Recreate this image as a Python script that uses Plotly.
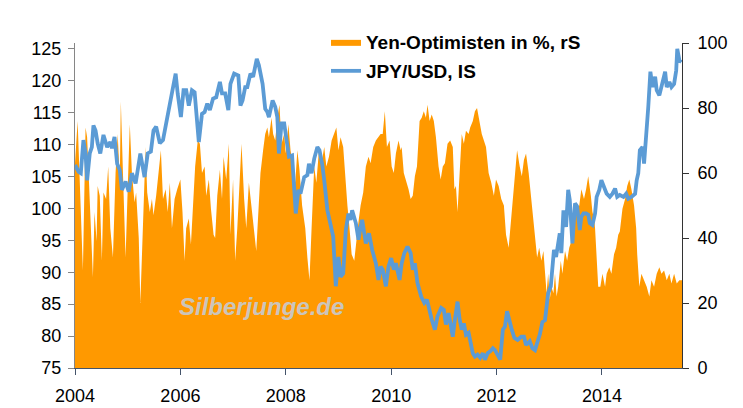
import plotly.graph_objects as go

# JPY/USD (left axis)
jpy_year = [2004.00, 2004.07, 2004.11, 2004.16, 2004.20, 2004.23, 2004.28, 2004.32, 2004.35, 2004.39,
            2004.43, 2004.48, 2004.54, 2004.61, 2004.67, 2004.70, 2004.75, 2004.80, 2004.85, 2004.89,
            2004.96, 2005.02, 2005.08, 2005.15, 2005.24, 2005.32, 2005.38, 2005.44, 2005.49, 2005.54,
            2005.61, 2005.67, 2005.73, 2005.81, 2005.86, 2005.91, 2005.95, 2006.01, 2006.06, 2006.11,
            2006.16, 2006.22, 2006.27, 2006.32, 2006.35, 2006.41, 2006.46, 2006.51, 2006.56, 2006.62,
            2006.68, 2006.75, 2006.79, 2006.85, 2006.91, 2006.95, 2007.02, 2007.10, 2007.14, 2007.18,
            2007.23, 2007.27, 2007.33, 2007.38, 2007.42, 2007.45, 2007.49, 2007.56, 2007.61, 2007.65,
            2007.68, 2007.75, 2007.80, 2007.84, 2007.87, 2007.92, 2007.97, 2008.01, 2008.06, 2008.12,
            2008.19, 2008.24, 2008.28, 2008.35, 2008.41, 2008.44, 2008.49, 2008.54, 2008.60, 2008.64,
            2008.69, 2008.73, 2008.79, 2008.83, 2008.90, 2008.95, 2009.00, 2009.04, 2009.09, 2009.14,
            2009.19, 2009.23, 2009.26, 2009.33, 2009.38, 2009.42, 2009.45, 2009.52, 2009.58, 2009.64,
            2009.71, 2009.76, 2009.80, 2009.84, 2009.90, 2009.95, 2010.00, 2010.05, 2010.09, 2010.16,
            2010.20, 2010.25, 2010.31, 2010.37, 2010.41, 2010.45, 2010.50, 2010.57, 2010.63, 2010.68,
            2010.73, 2010.77, 2010.83, 2010.88, 2010.95, 2011.00, 2011.04, 2011.09, 2011.13, 2011.17,
            2011.21, 2011.26, 2011.30, 2011.34, 2011.38, 2011.42, 2011.47, 2011.50, 2011.55, 2011.59,
            2011.64, 2011.69, 2011.74, 2011.78, 2011.83, 2011.88, 2011.93, 2011.97, 2012.02, 2012.07,
            2012.12, 2012.16, 2012.20, 2012.25, 2012.29, 2012.34, 2012.40, 2012.47, 2012.52, 2012.56,
            2012.63, 2012.68, 2012.73, 2012.77, 2012.82, 2012.87, 2012.92, 2012.95, 2012.98, 2013.03,
            2013.06, 2013.09, 2013.13, 2013.17, 2013.20, 2013.23, 2013.27, 2013.32, 2013.36, 2013.39,
            2013.44, 2013.49, 2013.53, 2013.58, 2013.61, 2013.65, 2013.70, 2013.74, 2013.77, 2013.82,
            2013.87, 2013.90, 2013.95, 2013.99, 2014.04, 2014.09, 2014.15, 2014.20, 2014.25, 2014.29,
            2014.34, 2014.41, 2014.46, 2014.50, 2014.56, 2014.63, 2014.66, 2014.69, 2014.72, 2014.77,
            2014.80, 2014.84, 2014.88, 2014.92, 2014.96, 2015.01, 2015.04, 2015.09, 2015.13, 2015.20,
            2015.23, 2015.28, 2015.32, 2015.37, 2015.41, 2015.43, 2015.47, 2015.51]
jpy_value = [106.8, 105.7, 105.5, 110.7, 108.6, 104.4, 108.6, 109.6, 113.0, 112.2,
             110.2, 108.6, 111.5, 109.6, 110.4, 109.4, 111.2, 107.0, 106.0, 102.9,
             104.2, 102.6, 105.5, 103.9, 108.6, 104.9, 108.6, 108.9, 112.2, 112.8,
             110.2, 110.7, 113.3, 116.9, 119.5, 121.1, 117.9, 114.3, 118.5, 118.5,
             116.1, 118.5, 118.2, 113.3, 110.4, 114.8, 115.1, 116.4, 115.4, 117.2,
             117.4, 119.8, 118.0, 118.0, 115.4, 119.5, 121.1, 120.8, 116.1, 116.9,
             119.0, 119.0, 121.1, 120.6, 122.1, 123.4, 122.4, 119.5, 115.6, 115.1,
             114.3, 116.9, 115.9, 114.3, 108.6, 113.3, 113.3, 110.7, 108.1, 108.3,
             99.2, 102.9, 102.3, 104.9, 105.2, 107.0, 105.5, 107.8, 109.6, 109.1,
             107.0, 104.4, 99.7, 98.2, 95.6, 87.8, 92.4, 89.3, 89.8, 96.6,
             99.2, 98.2, 99.7, 97.7, 95.1, 97.1, 98.2, 94.5, 96.1, 93.5,
             91.4, 88.8, 90.9, 90.4, 87.8, 90.9, 92.2, 90.4, 91.4, 88.8,
             91.4, 93.0, 94.0, 93.0, 90.4, 91.4, 88.3, 86.2, 85.2, 85.7,
             83.6, 82.6, 81.0, 83.1, 84.4, 84.1, 81.8, 83.6, 81.8, 79.9,
             82.6, 85.4, 82.6, 81.0, 82.0, 80.2, 80.5, 79.2, 77.3, 76.8,
             77.1, 76.6, 77.3, 76.3, 77.3, 77.6, 78.1, 77.8, 77.1, 76.3,
             81.0, 81.5, 83.9, 82.0, 81.0, 79.7, 79.4, 79.9, 79.9, 78.6,
             79.2, 78.1, 77.8, 78.9, 80.2, 82.2, 82.5, 84.6, 86.7, 87.8,
             90.9, 93.5, 92.4, 94.5, 96.1, 93.0, 99.7, 97.1, 102.9, 101.3,
             94.5, 100.8, 100.3, 96.6, 98.7, 99.2, 99.2, 99.0, 97.7, 97.4,
             99.2, 101.8, 102.9, 104.4, 103.4, 102.3, 101.8, 102.3, 103.1, 101.8,
             102.1, 101.8, 102.3, 101.5, 101.8, 102.3, 104.4, 105.5, 109.1, 109.6,
             107.0, 110.7, 115.9, 121.4, 119.0, 120.6, 118.5, 117.7, 119.3, 121.4,
             119.0, 119.8, 119.0, 119.5, 121.6, 125.0, 123.2, 122.9]

# Yen-Optimisten in % (right axis)
opt_year = [2004.00, 2004.05, 2004.15, 2004.20, 2004.23, 2004.29, 2004.34, 2004.37, 2004.41, 2004.43,
            2004.47, 2004.51, 2004.54, 2004.59, 2004.63, 2004.67, 2004.72, 2004.77, 2004.81, 2004.85,
            2004.87, 2004.91, 2004.96, 2005.00, 2005.04, 2005.08, 2005.13, 2005.16, 2005.21, 2005.24,
            2005.27, 2005.30, 2005.34, 2005.37, 2005.42, 2005.46, 2005.49, 2005.54, 2005.59, 2005.63,
            2005.67, 2005.72, 2005.76, 2005.80, 2005.84, 2005.89, 2005.94, 2006.00, 2006.04, 2006.08,
            2006.11, 2006.16, 2006.20, 2006.24, 2006.28, 2006.33, 2006.37, 2006.41, 2006.46, 2006.49,
            2006.54, 2006.58, 2006.63, 2006.66, 2006.70, 2006.75, 2006.79, 2006.82, 2006.87, 2006.92,
            2006.95, 2007.00, 2007.04, 2007.08, 2007.12, 2007.16, 2007.21, 2007.25, 2007.30, 2007.35,
            2007.40, 2007.44, 2007.48, 2007.52, 2007.57, 2007.61, 2007.65, 2007.68, 2007.73, 2007.76,
            2007.80, 2007.84, 2007.88, 2007.92, 2007.97, 2008.00, 2008.05, 2008.09, 2008.12, 2008.18,
            2008.22, 2008.26, 2008.31, 2008.37, 2008.41, 2008.45, 2008.49, 2008.54, 2008.58, 2008.63,
            2008.68, 2008.73, 2008.77, 2008.82, 2008.87, 2008.92, 2008.96, 2009.00, 2009.04, 2009.09,
            2009.13, 2009.17, 2009.21, 2009.25, 2009.30, 2009.34, 2009.38, 2009.42, 2009.47, 2009.52,
            2009.57, 2009.61, 2009.66, 2009.71, 2009.76, 2009.80, 2009.84, 2009.88, 2009.92, 2009.97,
            2010.01, 2010.05, 2010.09, 2010.14, 2010.18, 2010.20, 2010.24, 2010.28, 2010.33, 2010.37,
            2010.41, 2010.45, 2010.49, 2010.54, 2010.58, 2010.62, 2010.66, 2010.69, 2010.73, 2010.77,
            2010.81, 2010.85, 2010.90, 2010.94, 2010.98, 2011.02, 2011.07, 2011.12, 2011.17, 2011.20,
            2011.23, 2011.26, 2011.30, 2011.34, 2011.38, 2011.42, 2011.47, 2011.50, 2011.55, 2011.59,
            2011.63, 2011.68, 2011.72, 2011.76, 2011.80, 2011.85, 2011.90, 2011.95, 2011.99, 2012.04,
            2012.09, 2012.14, 2012.18, 2012.23, 2012.26, 2012.31, 2012.35, 2012.39, 2012.44, 2012.48,
            2012.52, 2012.56, 2012.61, 2012.64, 2012.69, 2012.72, 2012.77, 2012.81, 2012.85, 2012.89,
            2012.92, 2012.95, 2012.98, 2013.01, 2013.04, 2013.08, 2013.11, 2013.14, 2013.17, 2013.22,
            2013.25, 2013.30, 2013.34, 2013.38, 2013.42, 2013.47, 2013.52, 2013.57, 2013.61, 2013.66,
            2013.70, 2013.74, 2013.79, 2013.82, 2013.85, 2013.87, 2013.90, 2013.93, 2013.97, 2014.01,
            2014.06, 2014.09, 2014.14, 2014.18, 2014.23, 2014.27, 2014.31, 2014.34, 2014.39, 2014.44,
            2014.48, 2014.52, 2014.56, 2014.61, 2014.65, 2014.67, 2014.71, 2014.75, 2014.80, 2014.85,
            2014.90, 2014.94, 2014.99, 2015.04, 2015.09, 2015.13, 2015.18, 2015.23, 2015.28, 2015.32,
            2015.37, 2015.42, 2015.47, 2015.52]
opt_value = [63, 76, 30, 74, 71, 50, 28, 48, 39, 56,
             53, 33, 54, 52, 62, 43, 34, 60, 72, 58,
             82, 60, 34, 55, 75, 60, 51, 54, 40, 20,
             36, 49, 68, 54, 48, 52, 47, 53, 60, 67,
             52, 55, 48, 57, 43, 52, 55, 58, 48, 33,
             43, 46, 38, 50, 62, 70, 69, 60, 62, 53,
             58, 49, 41, 40, 53, 61, 52, 65, 58, 69,
             41, 58, 33, 43, 55, 69, 52, 43, 57, 50,
             42, 36, 48, 60, 67, 72, 74, 71, 77, 72,
             70, 77, 81, 69, 72, 66, 75, 67, 64, 57,
             67, 61, 50, 43, 34, 27, 43, 62, 57, 67,
             63, 68, 62, 65, 70, 72, 74, 67, 71, 68,
             58, 50, 43, 35, 33, 40, 45, 50, 54, 62,
             65, 63, 68, 70, 71, 72, 72, 79, 68, 70,
             62, 60, 66, 70, 67, 68, 60, 58, 55, 52,
             53, 59, 62, 76, 77, 79, 77, 81, 76, 78,
             76, 71, 62, 58, 62, 63, 69, 70, 68, 55,
             56, 48, 59, 72, 69, 73, 72, 74, 76, 79,
             80, 75, 72, 70, 68, 60, 57, 53, 58, 56,
             52, 50, 41, 37, 43, 52, 60, 67, 62, 59,
             64, 66, 60, 55, 46, 42, 34, 37, 33, 36,
             29, 23, 29, 21, 25, 23, 29, 22, 25, 33,
             29, 36, 33, 37, 39, 45, 48, 50, 55, 52,
             55, 59, 53, 48, 46, 43, 34, 25, 25, 29,
             25, 29, 31, 29, 35, 37, 41, 42, 49, 52,
             56, 58, 55, 50, 43, 35, 25, 29, 27, 25,
             22, 27, 25, 29, 31, 29, 30, 27, 29, 26,
             29, 26, 27, 27]

year_ticks = [2004, 2006, 2008, 2010, 2012, 2014]
left_ticks = [75, 80, 85, 90, 95, 100, 105, 110, 115, 120, 125]
right_ticks = [0, 20, 40, 60, 80, 100]

FONT = "Arial, 'Liberation Sans', sans-serif"
W, H = 735, 400  # page body adds an 8px offset inside the 743x408 window

fig = go.Figure()
fig.add_trace(go.Scatter(
    x=opt_year, y=opt_value, name="Yen-Optimisten in %, rS",
    mode="lines", fill="tozeroy", fillcolor="#FF9900",
    line=dict(color="#FF9900", width=0), yaxis="y", legend="legend"))
fig.add_trace(go.Scatter(
    x=jpy_year, y=jpy_value, name="JPY/USD, IS",
    mode="lines", line=dict(color="#5B9BD5", width=3.8), yaxis="y2", legend="legend2"))

fig.update_layout(
    width=W, height=H,
    margin=dict(l=67, r=61, t=35, b=40, autoexpand=False),
    paper_bgcolor="white", plot_bgcolor="white",
    font=dict(family=FONT, size=18, color="#000000"),
    xaxis=dict(range=[2004, 2015.52], tickvals=year_ticks, ticktext=[str(v) for v in year_ticks],
               showgrid=False, zeroline=False, showline=True, linecolor="#44546A", linewidth=1,
               ticks="outside", ticklen=6, tickcolor="#44546A", automargin=False,
               ticklabelstandoff=5),
    yaxis=dict(side="right", range=[0, 100], tickvals=right_ticks, showgrid=False, zeroline=False,
               showline=True, linecolor="#333333", linewidth=1, ticks="outside", ticklen=6,
               tickcolor="#333333", automargin=False, ticklabelstandoff=5),
    yaxis2=dict(side="left", overlaying="y", range=[75, 125.9], tickvals=left_ticks, showgrid=False,
                zeroline=False, showline=True, linecolor="#868686", linewidth=1, ticks="outside",
                ticklen=6, tickcolor="#868686", automargin=False, ticklabelstandoff=3),
    legend=dict(xref="container", yref="container", x=318 / W, y=1 - 34 / H,
                xanchor="left", yanchor="middle", bgcolor="rgba(0,0,0,0)",
                font=dict(family=FONT, size=19, weight="bold")),
    legend2=dict(xref="container", yref="container", x=318 / W, y=1 - 63 / H,
                 xanchor="left", yanchor="middle", bgcolor="rgba(0,0,0,0)",
                 font=dict(family=FONT, size=19, weight="bold")),
    showlegend=True,
    annotations=[dict(text="<b><i>Silberjunge.de</i></b>", xref="paper", yref="paper",
                      x=0.308, y=0.188, xanchor="center", yanchor="middle", showarrow=False,
                      font=dict(family=FONT, size=24, color="rgba(200,200,200,0.95)"))],
)

fig.write_html("out.html")
